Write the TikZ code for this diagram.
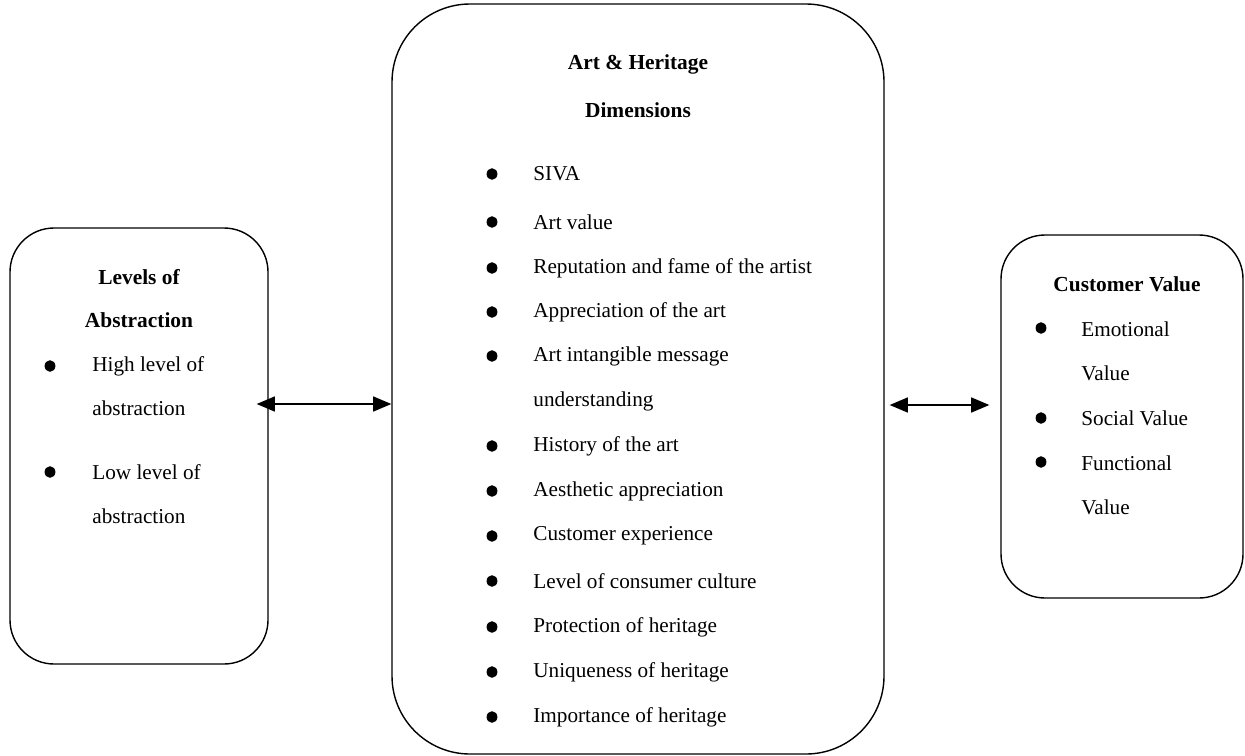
\documentclass[tikz,border=0pt]{standalone}
\usepackage{fontspec}
\setmainfont{Liberation Serif}
\usepackage{tikz}
\usetikzlibrary{arrows,positioning}

\tikzset{
	panel/.style={draw, line width=0.7pt, rounded corners=#1, inner sep=0pt},
	panel/.default=20pt,
	head/.style={font=\fontsize{10.7}{12}\selectfont\bfseries, inner sep=0pt},
	item/.style={font=\fontsize{10.6}{12}\selectfont, anchor=west, inner sep=0pt},
	dot/.style={ellipse, fill=black, inner sep=0pt, minimum width=5.4pt, minimum height=5.8pt},
	link/.style={<->, line width=1.1pt}
}
\usetikzlibrary{shapes.geometric}

\begin{document}
\begin{tikzpicture}[>=triangle 45, x=0.5pt, y=-0.5pt]
		\useasboundingbox (0,0) rectangle (1245,755);

		% boxes
		\node[panel=22pt, minimum width=129pt, minimum height=218pt] (abs) at (139,446) {};
		\node[panel=39pt, minimum width=246pt, minimum height=375pt] (art) at (638,379) {};
		\node[panel=22pt, minimum width=121pt, minimum height=181.5pt] (cv) at (1122,416.5) {};

		% levels of abstraction
		\node[head] (abst1) at (139,277) {Levels of}; \node[head] (abst2) at (139,320) {Abstraction};
		\node[dot] (ab1) at (50,366) {}; \node[item] (abt1) at (92,366) {High level of}; \node[item] (abt2) at (92,408) {abstraction};
		\node[dot] (ab2) at (50,472) {}; \node[item] (abt3) at (92,472) {Low level of}; \node[item] (abt4) at (92,516) {abstraction};

		% art and heritage dimensions
		\node[head] (artt1) at (638,64) {Art \& Heritage}; \node[head] (artt2) at (638,110) {Dimensions};
		\node[dot] (ar1) at (492,174) {}; \node[item] (art1) at (533,174) {SIVA};
		\node[dot] (ar2) at (492,222) {}; \node[item] (art2) at (533,222) {Art value};
		\node[dot] (ar3) at (492,268) {}; \node[item] (art3) at (533,268) {Reputation and fame of the artist};
		\node[dot] (ar4) at (492,312) {}; \node[item] (art4) at (533,312) {Appreciation of the art};
		\node[dot] (ar5) at (492,356) {}; \node[item] (art5) at (533,356) {Art intangible message}; \node[item] (art5b) at (533,401) {understanding};
		\node[dot] (ar6) at (492,446) {}; \node[item] (art6) at (533,446) {History of the art};
		\node[dot] (ar7) at (492,491) {}; \node[item] (art7) at (533,491) {Aesthetic appreciation};
		\node[dot] (ar8) at (492,536) {}; \node[item] (art8) at (533,536) {Customer experience};
		\node[dot] (ar9) at (492,581) {}; \node[item] (art9) at (533,581) {Level of consumer culture};
		\node[dot] (ar10) at (492,627) {}; \node[item] (art10) at (533,627) {Protection of heritage};
		\node[dot] (ar11) at (492,672) {}; \node[item] (art11) at (533,672) {Uniqueness of heritage};
		\node[dot] (ar12) at (492,717) {}; \node[item] (art12) at (533,717) {Importance of heritage};

		% customer value
		\node[head] (cvt) at (1127,284) {Customer Value};
		\node[dot] (cv1) at (1041,328) {}; \node[item] (cvt1) at (1081,329) {Emotional}; \node[item] (cvt1b) at (1081,373) {Value};
		\node[dot] (cv2) at (1041,418) {}; \node[item] (cvt2) at (1081,418) {Social Value};
		\node[dot] (cv3) at (1041,462) {}; \node[item] (cvt3) at (1081,463) {Functional}; \node[item] (cvt3b) at (1081,507) {Value};

		% links
		\coordinate (la) at ([xshift=-6pt]abs.east |- 0,404); \coordinate (lb) at (art.west |- 0,404);
		\coordinate (ra) at ([xshift=2.5pt]art.east |- 0,405); \coordinate (rb) at ([xshift=-5.5pt]cv.west |- 0,405);
		\draw[link] (la) -- (lb); \draw[link] (ra) -- (rb);
	\end{tikzpicture}
\end{document}
